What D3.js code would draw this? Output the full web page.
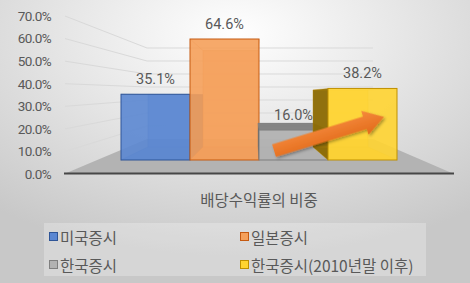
<!DOCTYPE html>
<html>
<head>
<meta charset="utf-8">
<script src="https://cdn.jsdelivr.net/npm/d3@7"></script>
<style>
  body { margin: 0; }
  svg text { font-family: "Noto Sans CJK KR", "Noto Sans", sans-serif; fill: #595959; }
</style>
</head>
<body>
<div id="vis"></div>
<script>
const categories = ["미국증시", "일본증시", "한국증시", "한국증시(2010년말 이후)"];
const values = [35.1, 64.6, 16.0, 38.2];
const ticks = [0, 10, 20, 30, 40, 50, 60, 70];
const title = "배당수익률의 비중";
const colors = ["#4472c4", "#ed7d31", "#a5a5a5", "#ffc000"];
const fronts = ["#5b87d2", "#f5a05a", "#b2b2b2", "#ffd431"];
const darks = ["#2f5597", "#c55a11", "#7f7f7f", "#bf9000"];

const WIDTH = 470, HEIGHT = 283;
const AXIS_X = 65, WALL_X = 147, WALL_RIGHT = 373, FLOOR_RIGHT = 454;
const VP = [254, 96], K = 0.797; // perspective for bar depth

const x = d3.scaleBand(categories, [121, 397]).padding(0);
const yFront = d3.scaleLinear([0, 70], [160, 160 - 70 * 1.873]);
const yAxisScale = d3.scaleLinear([0, 70], [174, 16]);
const yBack = d3.scaleLinear([0, 70], [139, 48]);
const fmt = d => d3.format(".1f")(d) + "%";

const proj = p => [VP[0] + (p[0] - VP[0]) * K, VP[1] + (p[1] - VP[1]) * K];

const svg = d3.select("#vis").append("svg")
  .attr("width", WIDTH).attr("height", HEIGHT);

const defs = svg.append("defs");
const bg = defs.append("radialGradient").attr("id", "bg")
  .attr("cx", "50%").attr("cy", "12%").attr("r", "80%");
bg.append("stop").attr("offset", "0").attr("stop-color", "#ffffff");
bg.append("stop").attr("offset", "1").attr("stop-color", "#c8c8c8");

const ag = defs.append("linearGradient").attr("id", "arrowGrad")
  .attr("x1", 0).attr("y1", 0).attr("x2", 0).attr("y2", 1);
ag.append("stop").attr("offset", "0").attr("stop-color", "#f58a3c");
ag.append("stop").attr("offset", "1").attr("stop-color", "#e26a1a");

const shadow = defs.append("filter").attr("id", "shadow")
  .attr("x", "-20%").attr("y", "-50%").attr("width", "140%").attr("height", "200%");
shadow.append("feDropShadow").attr("dx", 1).attr("dy", 2).attr("stdDeviation", 1.5)
  .attr("flood-color", "#000").attr("flood-opacity", 0.35);

svg.append("rect").attr("width", WIDTH).attr("height", HEIGHT).attr("fill", "url(#bg)");

// walls' gridlines
svg.append("g").selectAll("path")
  .data(ticks.filter(t => t > 0))
  .join("path")
    .attr("d", t => `M${AXIS_X},${yAxisScale(t)}L${WALL_X},${yBack(t)}L${WALL_RIGHT},${yBack(t)}`)
    .attr("fill", "none")
    .attr("stroke", "#d9d9d9")
    .attr("stroke-width", 1);

// floor
svg.append("path")
  .attr("d", `M${AXIS_X - 1},${yAxisScale(0)}L${FLOOR_RIGHT},${yAxisScale(0)}L${WALL_RIGHT},${yBack(0)}L${WALL_X},${yBack(0)}Z`)
  .attr("fill", "#b3b3b3");
svg.append("line")
  .attr("x1", AXIS_X - 1).attr("x2", FLOOR_RIGHT)
  .attr("y1", yAxisScale(0) - 0.5).attr("y2", yAxisScale(0) - 0.5)
  .attr("stroke", "#474747").attr("stroke-width", 2);

// y axis labels
const yAxis = d3.axisLeft(yAxisScale).tickValues(ticks).tickFormat(fmt).tickSize(0).tickPadding(0);
const ag2 = svg.append("g").attr("transform", `translate(51,0)`).call(yAxis);
ag2.select(".domain").remove();
ag2.selectAll("text").attr("font-size", 13.5).attr("fill", "#595959")
  .attr("letter-spacing", -0.6)
  .style("font-family", "Roboto, sans-serif");

// bars
const poly = pts => "M" + pts.map(p => p.join(",")).join("L") + "Z";

function drawBar(g, v, i) {
  const x0 = x(categories[i]), x1 = x0 + x.bandwidth();
  const yt = yFront(v), yb = yFront(0);
  const A = [x0, yt], B = [x1, yt], C = [x1, yb], D = [x0, yb];
  const A2 = proj(A), B2 = proj(B), C2 = proj(C), D2 = proj(D);

  // back face and bottom face
  g.append("path").attr("d", poly([A2, B2, C2, D2]))
    .attr("fill", fronts[i]).attr("fill-opacity", 0.5);
  g.append("path").attr("d", poly([D, C, C2, D2]))
    .attr("fill", colors[i]).attr("fill-opacity", 0.4);
  // side faces
  if (x1 < VP[0]) {
    g.append("path").attr("d", poly([B, B2, C2, C]))
      .attr("fill", darks[i]).attr("fill-opacity", 0.85);
  }
  if (x0 > VP[0]) {
    g.append("path").attr("d", poly([A, A2, D2, D]))
      .attr("fill", d3.color(darks[i]).darker(1)).attr("fill-opacity", 0.9);
  }
  if (yt > VP[1]) {
    g.append("path").attr("d", poly([A, B, B2, A2]))
      .attr("fill", darks[i]).attr("fill-opacity", 0.95);
  }
  // inner edges seen through the front
  g.append("path")
    .attr("d", `M${A2}L${B2}L${C2}L${D2}Z M${A}L${A2} M${D}L${D2} M${C}L${C2} M${B}L${B2}`)
    .attr("fill", "none").attr("stroke", darks[i]).attr("stroke-opacity", 0.3).attr("stroke-width", 1);
  // front face
  g.append("rect")
    .attr("x", x0).attr("y", yt)
    .attr("width", x.bandwidth()).attr("height", yb - yt)
    .attr("fill", fronts[i]).attr("fill-opacity", 0.9)
    .attr("stroke", darks[i]).attr("stroke-width", 1);
}

const barG = svg.append("g");
values.forEach((v, i) => drawBar(barG.append("g"), v, i));

// data labels
svg.append("g").selectAll("text")
  .data(values)
  .join("text")
    .attr("x", (v, i) => x(categories[i]) + x.bandwidth() / 2)
    .attr("y", v => yFront(v) - 15)
    .attr("text-anchor", "middle")
    .attr("dominant-baseline", "central")
    .attr("font-size", 14.5)
    .style("font-family", "Roboto, sans-serif")
    .text(fmt);

// arrow from gray bar towards the 2010 bar
{
  const t = [x(categories[2]) + 15, yFront(5)];
  const h = [x(categories[3]) + 56, yFront(23)];
  const len = Math.hypot(h[0] - t[0], h[1] - t[1]);
  const ang = Math.atan2(h[1] - t[1], h[0] - t[0]) * 180 / Math.PI;
  const sw = 6.5, hw = 12.5, hl = 20;
  const shape = [[0, -sw], [len - hl, -sw], [len - hl, -hw], [len, 0], [len - hl, hw], [len - hl, sw], [0, sw]];
  svg.append("path")
    .attr("d", poly(shape))
    .attr("transform", `translate(${t}) rotate(${ang})`)
    .attr("fill", "url(#arrowGrad)")
    .attr("filter", "url(#shadow)");
}

// axis title
svg.append("text")
  .attr("x", 259).attr("y", 199)
  .attr("text-anchor", "middle").attr("dominant-baseline", "central")
  .attr("font-size", 15.5)
  .text(title);

// legend
const lg = svg.append("g");
lg.append("rect").attr("x", 44).attr("y", 223).attr("width", 382).attr("height", 53)
  .attr("fill", "#ffffff").attr("fill-opacity", 0.25);
const item = lg.selectAll("g.item")
  .data(categories)
  .join("g")
    .attr("class", "item")
    .attr("transform", (d, i) => `translate(${i % 2 ? 240 : 49},${i < 2 ? 237 : 265})`);
item.append("rect")
  .attr("x", 0.5).attr("y", -4.5).attr("width", 8).attr("height", 8)
  .attr("fill", (d, i) => fronts[i]).attr("stroke", (d, i) => darks[i]).attr("stroke-width", 1);
item.append("text")
  .attr("x", 11).attr("y", 0)
  .attr("dominant-baseline", "central")
  .attr("font-size", 15.5)
  .text(d => d);
</script>
</body>
</html>
